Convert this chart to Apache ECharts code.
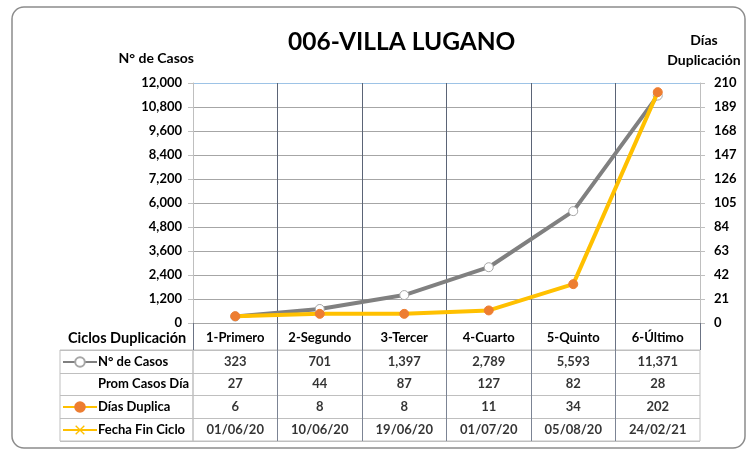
<!DOCTYPE html>
<html>
<head>
<meta charset="utf-8">
<script src="https://cdn.jsdelivr.net/npm/echarts@6/dist/echarts.min.js"></script>
<style>
  html, body { margin: 0; padding: 0; background: #fff; }
  #chart { width: 747px; height: 451px; }
</style>
</head>
<body>
<div id="chart"></div>
<script>
// datos de la tabla / del grafico
const ciclos = ['1-Primero', '2-Segundo', '3-Tercer', '4-Cuarto', '5-Quinto', '6-Último']
const casos = [323, 701, 1397, 2789, 5593, 11371]
const promCasosDia = [27, 44, 87, 127, 82, 28]
const diasDuplica = [6, 8, 8, 11, 34, 202]
const fechaFin = ['01/06/20', '10/06/20', '19/06/20', '01/07/20', '05/08/20', '24/02/21']
const filas = ['N° de Casos', 'Prom Casos Día', 'Días Duplica', 'Fecha Fin Ciclo']

const FONT = 'Lato'
const fmt = v => v.toLocaleString('en-US')

// celdas de la tabla: [columna, fila, texto]
const celdas = []
ciclos.forEach((c, i) => {
  celdas.push([i, 0, fmt(casos[i])])
  celdas.push([i, 1, String(promCasosDia[i])])
  celdas.push([i, 2, String(diasDuplica[i])])
  celdas.push([i, 3, fechaFin[i]])
})

const chart = echarts.init(document.getElementById('chart'))

const gridLeft = 193
const gridRight = 47
const labelStyle = { color: '#000', fontFamily: FONT, fontWeight: 'bold', fontSize: 13 }
const nameStyle = { color: '#000', fontFamily: FONT, fontWeight: 'bold', fontSize: 14 }

const option = {
  animation: false,
  textStyle: { fontFamily: FONT },
  title: [
    {
      text: '006-VILLA LUGANO',
      left: 283,
      top: 25,
      textStyle: { fontFamily: FONT, fontWeight: 'bold', fontSize: 24.5, color: '#000' }
    },
    {
      text: 'Ciclos Duplicación',
      left: 68,
      top: 331,
      padding: 0,
      textStyle: { fontFamily: FONT, fontWeight: 'bold', fontSize: 14.5, color: '#000' }
    }
  ],
  graphic: [
    {
      type: 'rect',
      shape: { x: 12, y: 7, width: 733, height: 441, r: 12 },
      style: { fill: 'none', stroke: '#8c8c8c', lineWidth: 1.5 },
      silent: true
    }
  ],
  legend: [
    { data: ['N° de Casos'], left: 62, top: 356 },
    { data: ['Días Duplica'], left: 62, top: 401 },
    { data: ['Fecha Fin Ciclo'], left: 62, top: 424 }
  ].map(l => Object.assign({
    padding: 0,
    itemWidth: 34,
    itemHeight: 12,
    selectedMode: false,
    formatter: () => ''
  }, l)),
  grid: [
    // grafico principal
    { left: gridLeft, right: gridRight, top: 83, bottom: 128 },
    // columna de etiquetas de la tabla
    { left: 60, width: gridLeft - 60, top: 350, bottom: 10, show: true, borderColor: '#bfbfbf', borderWidth: 1 },
    // celdas de la tabla
    { left: gridLeft, right: gridRight, top: 350, bottom: 10, show: true, borderColor: '#bfbfbf', borderWidth: 1 }
  ],
  xAxis: [
    {
      gridIndex: 0,
      type: 'category',
      data: ciclos,
      boundaryGap: true,
      axisLine: { lineStyle: { color: '#a6a6a6', width: 1 } },
      axisTick: { show: true, length: 27, lineStyle: { color: '#6b7384' } },
      axisLabel: Object.assign({ margin: 8, interval: 0 }, labelStyle),
      splitLine: { show: true, showMinLine: false, showMaxLine: false, lineStyle: { color: '#5b6476', width: 1 } }
    },
    {
      gridIndex: 1,
      type: 'category',
      data: [''],
      axisLine: { show: false },
      axisTick: { show: false },
      axisLabel: { show: false }
    },
    {
      gridIndex: 2,
      type: 'category',
      data: ciclos,
      axisLine: { show: false },
      axisTick: { show: false },
      axisLabel: { show: false },
      splitLine: { show: true, showMinLine: false, showMaxLine: false, lineStyle: { color: '#7c8494', width: 1 } }
    }
  ],
  yAxis: [
    {
      gridIndex: 0,
      type: 'value',
      min: 0,
      max: 12000,
      interval: 1200,
      name: 'N° de Casos',
      nameLocation: 'end',
      nameGap: 18,
      nameTextStyle: Object.assign({ align: 'right', padding: [0, -1, 0, 0] }, nameStyle),
      axisLine: { show: true, lineStyle: { color: '#bfbfbf' } },
      axisTick: { show: true, length: 5, lineStyle: { color: '#bfbfbf' } },
      axisLabel: Object.assign({ margin: 11, formatter: v => fmt(v) }, labelStyle),
      splitLine: {
        show: true,
        lineStyle: {
          color: ['#a6a6a6', '#a6a6a6', '#a6a6a6', '#a6a6a6', '#a6a6a6', '#a6a6a6',
            '#a6a6a6', '#a6a6a6', '#a6a6a6', '#a6a6a6', '#9dc3e6'],
          width: 1
        }
      }
    },
    {
      gridIndex: 0,
      type: 'value',
      position: 'right',
      min: 0,
      max: 210,
      interval: 21,
      name: 'Días\nDuplicación',
      nameLocation: 'end',
      nameGap: 13,
      nameTextStyle: Object.assign({ align: 'center', lineHeight: 20, padding: [0, 0, 0, 8] }, nameStyle),
      axisLine: { show: true, lineStyle: { color: '#bfbfbf' } },
      axisTick: { show: true, length: 5, lineStyle: { color: '#bfbfbf' } },
      axisLabel: Object.assign({ margin: 14 }, labelStyle),
      splitLine: { show: false }
    },
    {
      gridIndex: 1,
      type: 'category',
      data: filas,
      inverse: true,
      axisLine: { show: false },
      axisTick: { show: false },
      axisLabel: Object.assign({ inside: true, margin: 38, align: 'left' }, labelStyle),
      splitLine: { show: true, lineStyle: { color: '#bfbfbf', width: 1 } }
    },
    {
      gridIndex: 2,
      type: 'category',
      data: filas,
      inverse: true,
      axisLine: { show: false },
      axisTick: { show: false },
      axisLabel: { show: false },
      splitLine: { show: true, lineStyle: { color: '#bfbfbf', width: 1 } }
    }
  ],
  series: [
    {
      name: 'N° de Casos',
      type: 'line',
      xAxisIndex: 0,
      yAxisIndex: 0,
      data: casos,
      symbol: 'circle',
      symbolSize: 9,
      z: 3,
      lineStyle: { color: '#808080', width: 4 },
      itemStyle: { color: '#ffffff', borderColor: '#a6a6a6', borderWidth: 1 }
    },
    {
      name: 'Días Duplica',
      type: 'line',
      xAxisIndex: 0,
      yAxisIndex: 1,
      data: diasDuplica,
      symbol: 'circle',
      symbolSize: 9,
      z: 4,
      lineStyle: { color: '#ffc000', width: 4 },
      itemStyle: { color: '#ed7d31', borderColor: '#ed7d31', borderWidth: 1 }
    },
    {
      name: 'Fecha Fin Ciclo',
      type: 'line',
      xAxisIndex: 0,
      yAxisIndex: 1,
      data: [],
      symbol: 'path://M0,1 L1,0 L5,4 L9,0 L10,1 L6,5 L10,9 L9,10 L5,6 L1,10 L0,9 L4,5 Z',
      symbolSize: 10,
      lineStyle: { color: '#ffc000', width: 2 },
      itemStyle: { color: '#ffc000' }
    },
    {
      name: 'tabla',
      type: 'scatter',
      xAxisIndex: 2,
      yAxisIndex: 3,
      data: celdas,
      symbolSize: 0,
      silent: true,
      label: Object.assign({
        show: true,
        position: 'inside',
        formatter: p => p.value[2]
      }, labelStyle)
    }
  ]
}

chart.setOption(option)
</script>
</body>
</html>
